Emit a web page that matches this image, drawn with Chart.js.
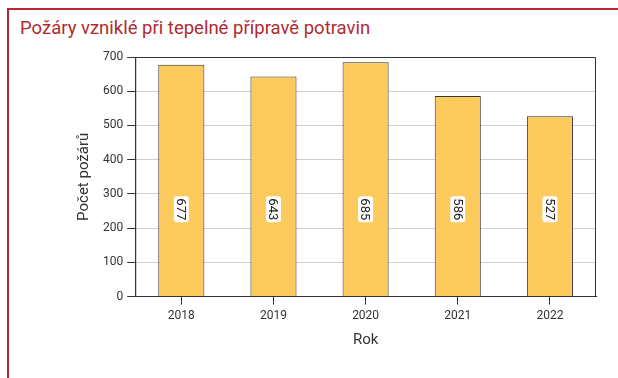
<!DOCTYPE html>
<html>
<head>
<meta charset="utf-8">
<script src="https://cdn.jsdelivr.net/npm/chart.js@4.4.1/dist/chart.umd.min.js"></script>
<style>
  html, body { margin: 0; padding: 0; background: #fff; }
  #box { position: relative; width: 618px; height: 378px; overflow: hidden; }
  #frame { position: absolute; left: 7px; top: 8px; width: 620px; height: 380px;
           border-top: 2px solid #b5282e; border-left: 2px solid #b5282e; }
  #title { position: absolute; left: 20px; top: 17px; font-family: "Roboto", sans-serif;
           font-size: 18.5px; color: #b02a30; white-space: nowrap; }
  #c { position: absolute; left: 0; top: 0; }
</style>
</head>
<body>
<div id="box">
  <div id="frame"></div>
  <div id="title">Požáry vzniklé při tepelné přípravě potravin</div>
  <canvas id="c" width="618" height="378"></canvas>
</div>
<script>
// roky a počty požárů
const roky = ['2018', '2019', '2020', '2021', '2022'];
const pocty = [677, 643, 685, 586, 527];
const yTicks = [0, 100, 200, 300, 400, 500, 600, 700];
const labelPos = 255; // výška, kde jsou popisky hodnot

const font = "Roboto, sans-serif";

// rámeček kolem plochy grafu a svislé popisky hodnot
const extras = {
  id: 'extras',
  afterDatasetsDraw(chart) {
    const { ctx, chartArea: a, scales } = chart;
    ctx.save();
    ctx.strokeStyle = '#333';
    ctx.lineWidth = 1;
    ctx.beginPath();
    ctx.moveTo(a.left + 0.5, a.bottom);
    ctx.lineTo(a.left + 0.5, a.top + 0.5);
    ctx.lineTo(a.right - 0.5, a.top + 0.5);
    ctx.lineTo(a.right - 0.5, a.bottom);
    ctx.stroke();

    const meta = chart.getDatasetMeta(0);
    ctx.font = '13px ' + font;
    ctx.textAlign = 'center';
    ctx.textBaseline = 'middle';
    meta.data.forEach((bar, i) => {
      const y = scales.y.getPixelForValue(labelPos);
      const txt = String(pocty[i]);
      const w = ctx.measureText(txt).width;
      ctx.save();
      ctx.translate(bar.x, y);
      ctx.rotate(Math.PI / 2);
      ctx.fillStyle = '#fff';
      ctx.beginPath();
      ctx.roundRect(-w / 2 - 2, -7.5, w + 4, 15, 3);
      ctx.fill();
      ctx.fillStyle = '#222';
      ctx.fillText(txt, 0, 1);
      ctx.restore();
    });
    ctx.restore();
  }
};

new Chart(document.getElementById('c'), {
  type: 'bar',
  data: {
    labels: roky,
    datasets: [{
      data: pocty,
      backgroundColor: '#fdca5e',
      borderColor: '#333',
      borderWidth: 1,
      barPercentage: 0.5,
      categoryPercentage: 1
    }]
  },
  options: {
    responsive: false,
    animation: false,
    layout: { padding: { left: 71, right: 22, top: 57, bottom: 25 } },
    plugins: { legend: { display: false }, tooltip: { enabled: false } },
    scales: {
      x: {
        grid: { drawOnChartArea: false, offset: false, tickLength: 8, tickColor: '#333' },
        border: { color: '#333' },
        ticks: { color: '#333', font: { family: font, size: 12 }, padding: 4 },
        title: { display: true, text: 'Rok', color: '#333', font: { family: font, size: 15 }, padding: { top: 4 } }
      },
      y: {
        min: 0, max: 700,
        afterBuildTicks(s) { s.ticks = yTicks.map(v => ({ value: v })); },
        grid: { color: '#cfcfcf', tickLength: 8, tickColor: '#333' },
        border: { color: '#333' },
        ticks: { color: '#333', font: { family: font, size: 12 }, padding: 4 },
        title: { display: true, text: 'Počet požárů', color: '#333', font: { family: font, size: 15 }, padding: { bottom: 6 } }
      }
    }
  },
  plugins: [extras]
});
</script>
</body>
</html>
